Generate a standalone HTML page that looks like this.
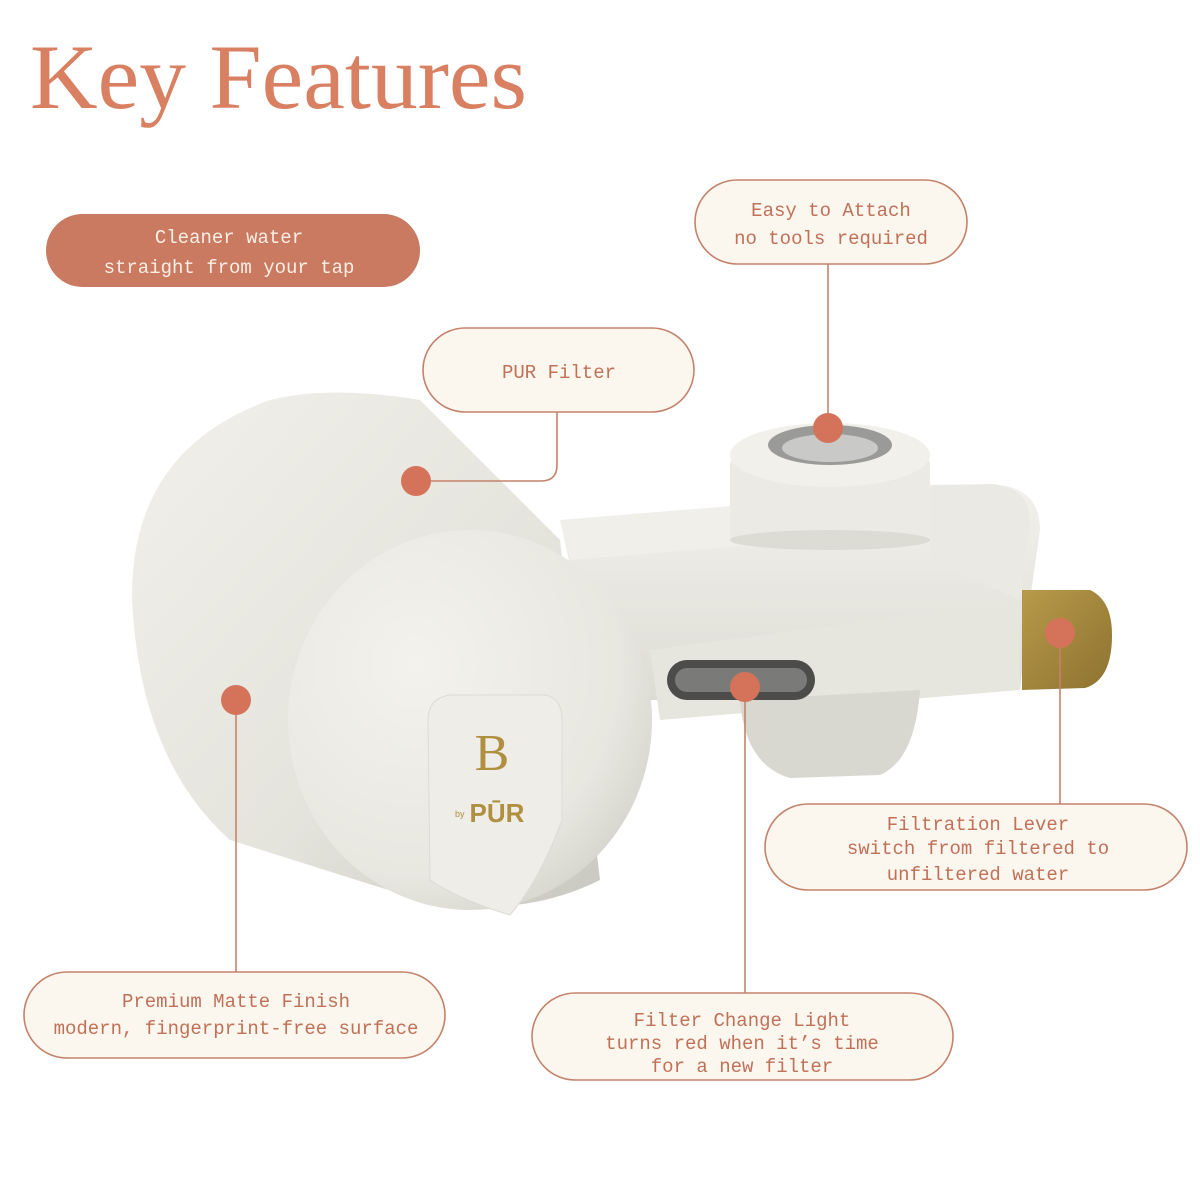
<!DOCTYPE html>
<html><head><style>
html,body{margin:0;padding:0;background:#fff;}
svg{display:block}
.t{font-family:"Liberation Mono",monospace;font-size:19px;fill:#c07158;text-anchor:middle}
</style></head><body>
<svg width="1200" height="1200" viewBox="0 0 1200 1200" xmlns="http://www.w3.org/2000/svg">
<defs>
<linearGradient id="body" x1="0" y1="0" x2="1" y2="1">
<stop offset="0" stop-color="#f1f0ea"/><stop offset="0.6" stop-color="#e4e3dc"/><stop offset="1" stop-color="#c9c8c0"/></linearGradient>
<radialGradient id="face" cx="0.35" cy="0.35" r="0.8">
<stop offset="0" stop-color="#f3f2ed"/><stop offset="0.7" stop-color="#e8e7e0"/><stop offset="1" stop-color="#cfcec6"/></radialGradient>
<linearGradient id="arm" x1="0" y1="0" x2="0" y2="1">
<stop offset="0" stop-color="#f2f1ec"/><stop offset="1" stop-color="#dddcd4"/></linearGradient>
<linearGradient id="gold" x1="0" y1="0" x2="1" y2="1">
<stop offset="0" stop-color="#b89a4a"/><stop offset="1" stop-color="#8d7230"/></linearGradient>
</defs>
<text x="30" y="108" font-family="Liberation Serif,serif" font-size="92" fill="#d98063" textLength="497" lengthAdjust="spacingAndGlyphs">Key Features</text>

<path d="M600,700 L560,520 L930,490 L1000,485 Q1040,490 1040,530 L1030,600 L1020,690 L940,690 L900,700 Z" fill="url(#arm)"/>
<path d="M560,520 L930,490 L940,530 L570,560 Z" fill="#f0efea"/>
<path d="M930,485 L995,484 Q1030,490 1030,520 L1020,600 L930,560 Z" fill="#eae9e3"/>
<path d="M650,650 L1020,600 L1020,690 L900,700 L660,720 Z" fill="#e6e5de"/>
<path d="M740,700 L920,690 Q915,760 880,775 L790,778 Q745,765 740,700 Z" fill="#d9d8d0"/>
<rect x="730" y="455" width="200" height="90" rx="10" fill="#ebeae4"/>
<ellipse cx="830" cy="540" rx="100" ry="10" fill="#dddcd4"/>
<ellipse cx="830" cy="455" rx="100" ry="32" fill="#f1f0eb"/>
<ellipse cx="830" cy="445" rx="62" ry="20" fill="#9a9a98"/>
<ellipse cx="830" cy="448" rx="48" ry="14" fill="#c9cac8"/>
<path d="M1022,590 L1090,590 Q1112,600 1112,635 Q1112,680 1085,688 L1022,690 Z" fill="url(#gold)"/>
<rect x="667" y="660" width="148" height="40" rx="20" fill="#4c4c4a"/>
<rect x="675" y="668" width="132" height="24" rx="12" fill="#7a7b79"/>
<path d="M270,400 Q330,385 420,400 L560,540 L600,880 Q520,920 420,900 L230,840 Q140,760 132,600 Q130,450 270,400 Z" fill="url(#body)"/>
<ellipse cx="470" cy="720" rx="182" ry="190" fill="url(#face)"/>
<path d="M428,720 Q428,698 450,695 L545,695 Q562,698 562,720 L562,820 Q540,880 510,915 Q460,900 430,880 Z" fill="#eeede7" stroke="#dcdbd3"/>
<text x="492" y="770" font-family="Liberation Serif,serif" font-size="52" fill="#b08f40" text-anchor="middle">B</text>
<text x="455" y="817" font-family="Liberation Sans,sans-serif" font-size="9" fill="#b08f40">by</text>
<text x="497" y="822" font-family="Liberation Sans,sans-serif" font-weight="bold" font-size="26" fill="#b08f40" text-anchor="middle">PŪR</text>

<g stroke="#c4826a" stroke-width="1.6" fill="none">
<line x1="828" y1="264" x2="828" y2="428"/>
<path d="M557,412 L557,465 Q557,481 541,481 L416,481"/>
<line x1="1060" y1="633" x2="1060" y2="804"/>
<line x1="745" y1="687" x2="745" y2="993"/>
<line x1="236" y1="700" x2="236" y2="972"/>
</g>
<g fill="#d4735a">
<circle cx="828" cy="428" r="15"/><circle cx="416" cy="481" r="15"/><circle cx="1060" cy="633" r="15"/><circle cx="745" cy="687" r="15"/><circle cx="236" cy="700" r="15"/>
</g>

<rect x="46" y="214" width="374" height="73" rx="36.5" fill="#c97a60"/>
<text class="t" x="229" y="243" style="fill:#fbefe6">Cleaner water</text>
<text class="t" x="229" y="273" style="fill:#fbefe6">straight from your tap</text>

<g fill="#fbf6ee" stroke="#c4826a" stroke-width="1.6">
<rect x="695" y="180" width="272" height="84" rx="42"/>
<rect x="423" y="328" width="271" height="84" rx="42"/>
<rect x="765" y="804" width="422" height="86" rx="43"/>
<rect x="24" y="972" width="421" height="86" rx="43"/>
<rect x="532" y="993" width="421" height="87" rx="43.5"/>
</g>
<text class="t" x="831" y="216">Easy to Attach</text>
<text class="t" x="831" y="244">no tools required</text>
<text class="t" x="559" y="378">PUR Filter</text>
<text class="t" x="978" y="830">Filtration Lever</text>
<text class="t" x="978" y="854">switch from filtered to</text>
<text class="t" x="978" y="880">unfiltered water</text>
<text class="t" x="236" y="1007">Premium Matte Finish</text>
<text class="t" x="236" y="1034">modern, fingerprint-free surface</text>
<text class="t" x="742" y="1026">Filter Change Light</text>
<text class="t" x="742" y="1049">turns red when it’s time</text>
<text class="t" x="742" y="1072">for a new filter</text>
</svg>
</body></html>
